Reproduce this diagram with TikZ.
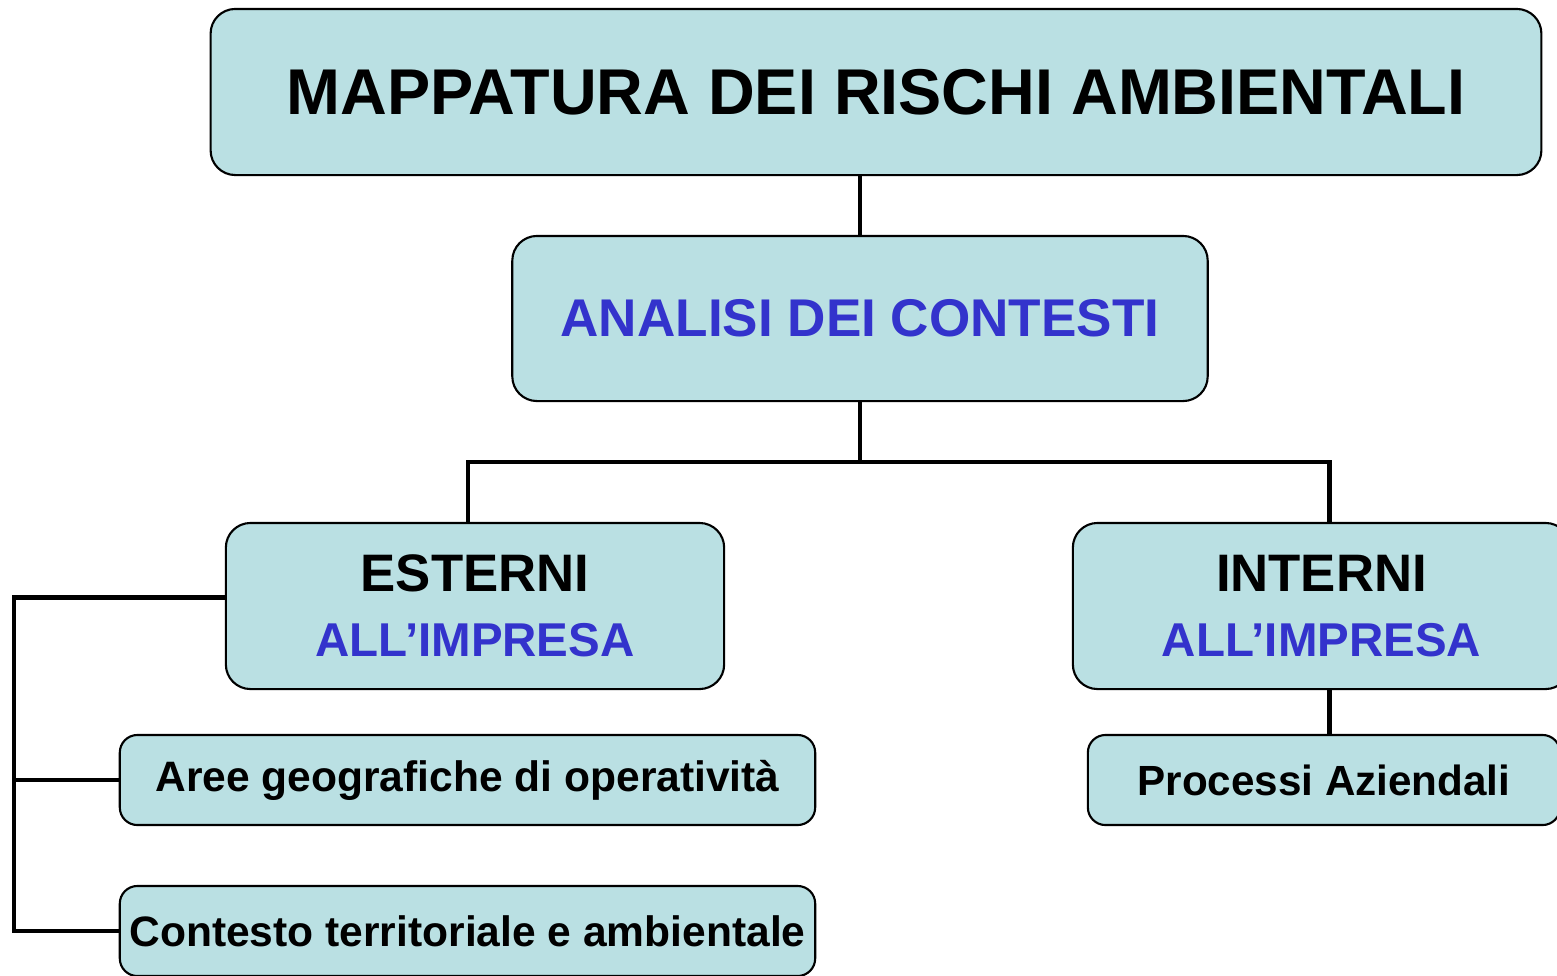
\documentclass[tikz,border=0pt]{standalone}
\usepackage{fontspec}
\setmainfont{Liberation Sans}
\definecolor{boxfill}{RGB}{186,224,227}
\definecolor{txtblue}{RGB}{51,51,204}
\begin{document}
\begin{tikzpicture}[x=0.01cm,y=-0.01cm,
  box/.style={draw,line width=0.6pt,fill=boxfill,rounded corners=7pt,inner sep=0pt,align=center,font=\bfseries},
  conn/.style={line width=1.4pt}]
\useasboundingbox (0,0) rectangle (1557,975);
\node[box,minimum width=13.30cm,minimum height=1.66cm,font=\bfseries\fontsize{18.4}{20}\selectfont] (top) at (876,92) {MAPPATURA DEI RISCHI AMBIENTALI};
\node[box,minimum width=6.95cm,minimum height=1.65cm,text=txtblue,font=\bfseries\fontsize{15.1}{17}\selectfont] (analisi) at (860,318.5) {ANALISI DEI CONTESTI};
\node[box,minimum width=4.98cm,minimum height=1.66cm,font=\bfseries\fontsize{15}{17}\selectfont] (esterni) at (475,606) {ESTERNI\\[1.5pt]\textcolor{txtblue}{\fontsize{13.5}{17}\selectfont ALL’IMPRESA}};
\node[box,minimum width=4.97cm,minimum height=1.66cm,font=\bfseries\fontsize{15}{17}\selectfont] (interni) at (1321.5,606) {INTERNI\\[1.5pt]\textcolor{txtblue}{\fontsize{13.5}{17}\selectfont ALL’IMPRESA}};
\node[box,rounded corners=5pt,minimum width=6.95cm,minimum height=0.90cm,font=\bfseries\fontsize{12.1}{14}\selectfont] (aree) at (467.5,780) {Aree geografiche di operatività};
\node[box,rounded corners=5pt,minimum width=6.95cm,minimum height=0.90cm,font=\bfseries\fontsize{12.1}{14}\selectfont] (contesto) at (467.5,931) {Contesto territoriale e ambientale};
\node[box,rounded corners=5pt,minimum width=4.72cm,minimum height=0.90cm,font=\bfseries\fontsize{12}{14}\selectfont] (processi) at (1324,780) {Processi Aziendali};
\coordinate (split) at (860,462);
\coordinate (bus) at (14,598);
\draw[conn] (analisi.north) -- (analisi.north |- top.south);
\draw[conn] (analisi.south) -- (split);
\draw[conn] ([xshift=-2pt]esterni.north) |- (split) -| ([xshift=2.4pt]interni.north);
\draw[conn] ([yshift=2.3pt]esterni.west) -| (bus) |- (contesto.west);
\draw[conn] (aree.west) -- (aree.west -| bus);
\draw[conn] ([xshift=2.4pt]interni.south) -- ([xshift=2.4pt]interni.south |- processi.north);
\end{tikzpicture}
\end{document}
